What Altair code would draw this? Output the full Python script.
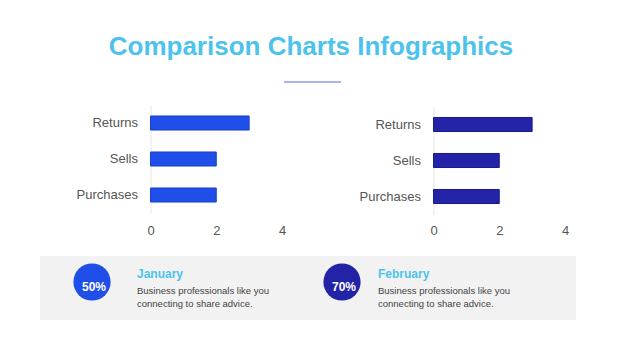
import altair as alt
import pandas as pd

# ---- data ----
title_text = "Comparison Charts Infographics"
categories = ["Returns", "Sells", "Purchases"]
january_values = [3, 2, 2]
february_values = [3, 2, 2]
x_ticks = [0, 2, 4]
percent_labels = ["50%", "70%"]
month_labels = ["January", "February"]
descriptions = [
    "Business professionals like you\nconnecting to share advice.",
    "Business professionals like you\nconnecting to share advice.",
]

# ---- style ----
FONT = "Liberation Sans"
W, H = 626, 352
LIGHT_BLUE = "#4DC3EC"
BLUE = "#1F4FE8"
BLUE_STROKE = "#1A40CC"
INDIGO = "#2323A8"
INDIGO_STROKE = "#1A1A8C"
LABEL = "#555555"
BODY = "#444444"


def bar_layer(values, color, stroke, xr, yr):
    df = pd.DataFrame({"category": categories, "value": values})
    return alt.Chart(df).mark_bar(color=color, stroke=stroke, strokeWidth=1).encode(
        x=alt.X(
            "value:Q",
            scale=alt.Scale(domain=[0, 4], range=xr, nice=False),
            axis=alt.Axis(
                orient="bottom", offset=-(H - 213), values=x_ticks, title=None,
                grid=False, domain=False, ticks=False, tickSize=0, labelPadding=11,
                labelFontSize=13, labelColor=LABEL, labelFont=FONT, labelFlush=False,
            ),
        ),
        y=alt.Y(
            "category:N",
            sort=categories,
            scale=alt.Scale(range=yr, paddingInner=0.61, paddingOuter=0.305),
            axis=alt.Axis(
                orient="left", offset=-xr[0], title=None, grid=False,
                ticks=False, tickSize=0, domainColor="#E6E6E6", labelPadding=13,
                labelFontSize=13, labelColor=LABEL, labelFont=FONT,
            ),
        ),
    )


one = pd.DataFrame({"d": [0]})

title = alt.Chart(pd.DataFrame({"t": [title_text]})).mark_text(
    font=FONT, fontSize=26, fontWeight="bold", color=LIGHT_BLUE,
    align="center", baseline="alphabetic",
).encode(x=alt.value(311), y=alt.value(55), text="t:N")

underline = alt.Chart(one).mark_rule(color="#8A9BE0", strokeWidth=1.5).encode(
    x=alt.value(284), x2=alt.value(341), y=alt.value(82)
)

panel = alt.Chart(one).mark_rect(color="#F2F2F2").encode(
    x=alt.value(40), x2=alt.value(576), y=alt.value(256), y2=alt.value(320)
)

layers = [panel, title, underline,
          bar_layer(january_values, BLUE, BLUE_STROKE, [150.5, 282], [105, 213]),
          bar_layer(february_values, INDIGO, INDIGO_STROKE, [433.5, 565], [106.5, 214.5])]

circle_x = [92, 342]
text_x = [137, 378]
card_colors = [BLUE, INDIGO]
for i in range(2):
    cx = circle_x[i]
    layers.append(
        alt.Chart(one).mark_circle(size=1385, opacity=1, color=card_colors[i]).encode(
            x=alt.value(cx), y=alt.value(282)
        )
    )
    layers.append(
        alt.Chart(pd.DataFrame({"p": [percent_labels[i]]})).mark_text(
            font=FONT, fontSize=12, fontWeight="bold", color="white",
            align="center", baseline="alphabetic",
        ).encode(x=alt.value(cx + 2), y=alt.value(291), text="p:N")
    )
    layers.append(
        alt.Chart(pd.DataFrame({"m": [month_labels[i]]})).mark_text(
            font=FONT, fontSize=12, fontWeight="bold", color=LIGHT_BLUE,
            align="left", baseline="alphabetic",
        ).encode(x=alt.value(text_x[i]), y=alt.value(278), text="m:N")
    )
    layers.append(
        alt.Chart(pd.DataFrame({"b": [descriptions[i]]})).mark_text(
            font=FONT, fontSize=9.5, color=BODY, align="left",
            baseline="alphabetic", lineBreak="\n", lineHeight=13,
        ).encode(x=alt.value(text_x[i]), y=alt.value(294), text="b:N")
    )

chart = (
    alt.layer(*layers)
    .resolve_scale(x="independent", y="independent")
    .properties(width=W, height=H, padding=0,
                autosize=alt.AutoSizeParams(type="none"), background="white")
    .configure_view(stroke=None)
)

chart.save("out.html", embed_options={"renderer": "svg", "actions": False})
